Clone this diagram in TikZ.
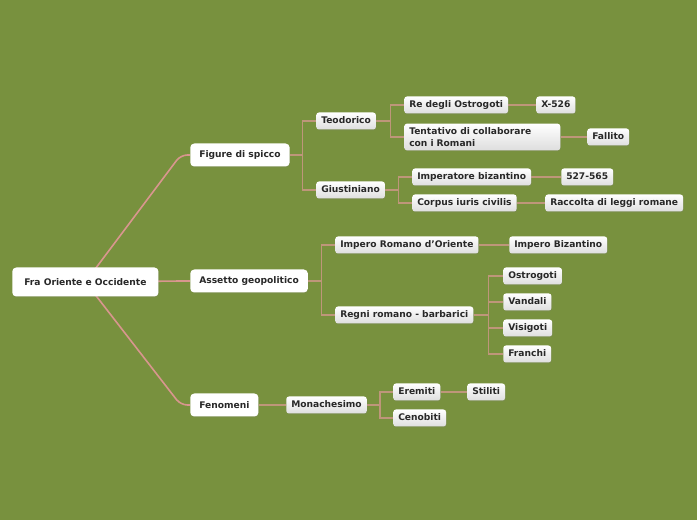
\documentclass[tikz,border=0pt]{standalone}
\usepackage{fontspec}
\setmainfont{DejaVu Sans}
\usetikzlibrary{positioning, calc, shadows, backgrounds}
\definecolor{bgcol}{RGB}{120,145,62}
\definecolor{rootcol}{RGB}{216,150,142}
\definecolor{linkcol}{RGB}{190,150,122}
\definecolor{txtcol}{RGB}{40,40,40}

\begin{document}
\begin{tikzpicture}[x=0.75pt, y=-0.75pt,
    every node/.style={font=\fontsize{6.85}{8}\selectfont\bfseries, text=txtcol, anchor=west},
    topic/.style={fill=white, rounded corners=3pt, minimum height=17.25pt, inner xsep=6.75pt,
        drop shadow={opacity=0.2, shadow xshift=0.4pt, shadow yshift=-0.6pt}},
    leaf/.style={top color=white, bottom color=black!13, rounded corners=2pt, minimum height=12.75pt,
        inner xsep=3.75pt, inner ysep=1.5pt, text height=5pt, text depth=1.5pt,
        drop shadow={opacity=0.25, shadow xshift=0.4pt, shadow yshift=-0.6pt}},
    trunk/.style={draw=rootcol, line width=1.2pt, rounded corners=5pt,
        to path={(\tikztostart.center) -- ([xshift=-7pt]\tikztotarget.west) -- (\tikztotarget.west)}},
    link/.style={draw=linkcol, line width=0.8pt},
    elbow/.style={to path={(\tikztostart.east) -| ($(\tikztostart.east)!.5!(\tikztotarget.west)$)
        |- (\tikztotarget.west)}}]

    \useasboundingbox (0,0) rectangle (697,520);

    % central topic and main branches
    \node[topic, minimum height=21.75pt, inner xsep=9pt] (root) at (12,282) {Fra Oriente e Occidente};
    \node[topic] (fig) at (190,155) {Figure di spicco};
    \node[topic] (ass) at (190,281) {Assetto geopolitico};
    \node[topic] (fen) at (190,405) {Fenomeni};

    % Figure di spicco
    \node[leaf] (teo) at (316,121) {Teodorico};
    \node[leaf] (giu) at (316,190) {Giustiniano};
    \node[leaf] (reo) at (404,105) {Re degli Ostrogoti};
    \node[leaf] (x526) at (536,105) {X-526};
    \node[leaf, text height=, text depth=, align=left, text width=109.5pt, minimum height=20pt,
        font=\fontsize{6.85}{9}\selectfont\bfseries] (ten) at (404,137) {Tentativo di collaborare\\con i Romani};
    \node[leaf] (fal) at (587,137) {Fallito};
    \node[leaf] (imp) at (412,177) {Imperatore bizantino};
    \node[leaf] (dat) at (561,177) {527-565};
    \node[leaf] (cor) at (412,203) {Corpus iuris civilis};
    \node[leaf] (rac) at (545,203) {Raccolta di leggi romane};

    % Assetto geopolitico
    \node[leaf] (iro) at (335,245) {Impero Romano d'Oriente};
    \node[leaf] (ibz) at (509,245) {Impero Bizantino};
    \node[leaf] (reg) at (335,315) {Regni romano - barbarici};
    \node[leaf] (ost) at (503,276) {Ostrogoti};
    \node[leaf] (van) at (503,302) {Vandali};
    \node[leaf] (vis) at (503,328) {Visigoti};
    \node[leaf] (fra) at (503,354) {Franchi};

    % Fenomeni
    \node[leaf] (mon) at (286,405) {Monachesimo};
    \node[leaf] (ere) at (393,392) {Eremiti};
    \node[leaf] (cen) at (393,418) {Cenobiti};
    \node[leaf] (sti) at (467,392) {Stiliti};

    \begin{scope}[on background layer]
        \fill[bgcol] (0,0) rectangle (697,520);
        \path[trunk]
            (root) edge (fig)
                   edge (ass)
                   edge (fen);
        \path[link]
            (fig) edge[elbow] (teo)
                  edge[elbow] (giu)
            (teo) edge[elbow] (reo)
                  edge[elbow] (ten)
            (reo) edge[elbow] (x526)
            (ten) edge[elbow] (fal)
            (giu) edge[elbow] (imp)
                  edge[elbow] (cor)
            (imp) edge[elbow] (dat)
            (cor) edge[elbow] (rac)
            (ass) edge[elbow] (iro)
                  edge[elbow] (reg)
            (iro) edge[elbow] (ibz)
            (reg) edge[elbow] (ost)
                  edge[elbow] (van)
                  edge[elbow] (vis)
                  edge[elbow] (fra)
            (fen) edge[elbow] (mon)
            (mon) edge[elbow] (ere)
                  edge[elbow] (cen)
            (ere) edge[elbow] (sti);
    \end{scope}
\end{tikzpicture}
\end{document}
